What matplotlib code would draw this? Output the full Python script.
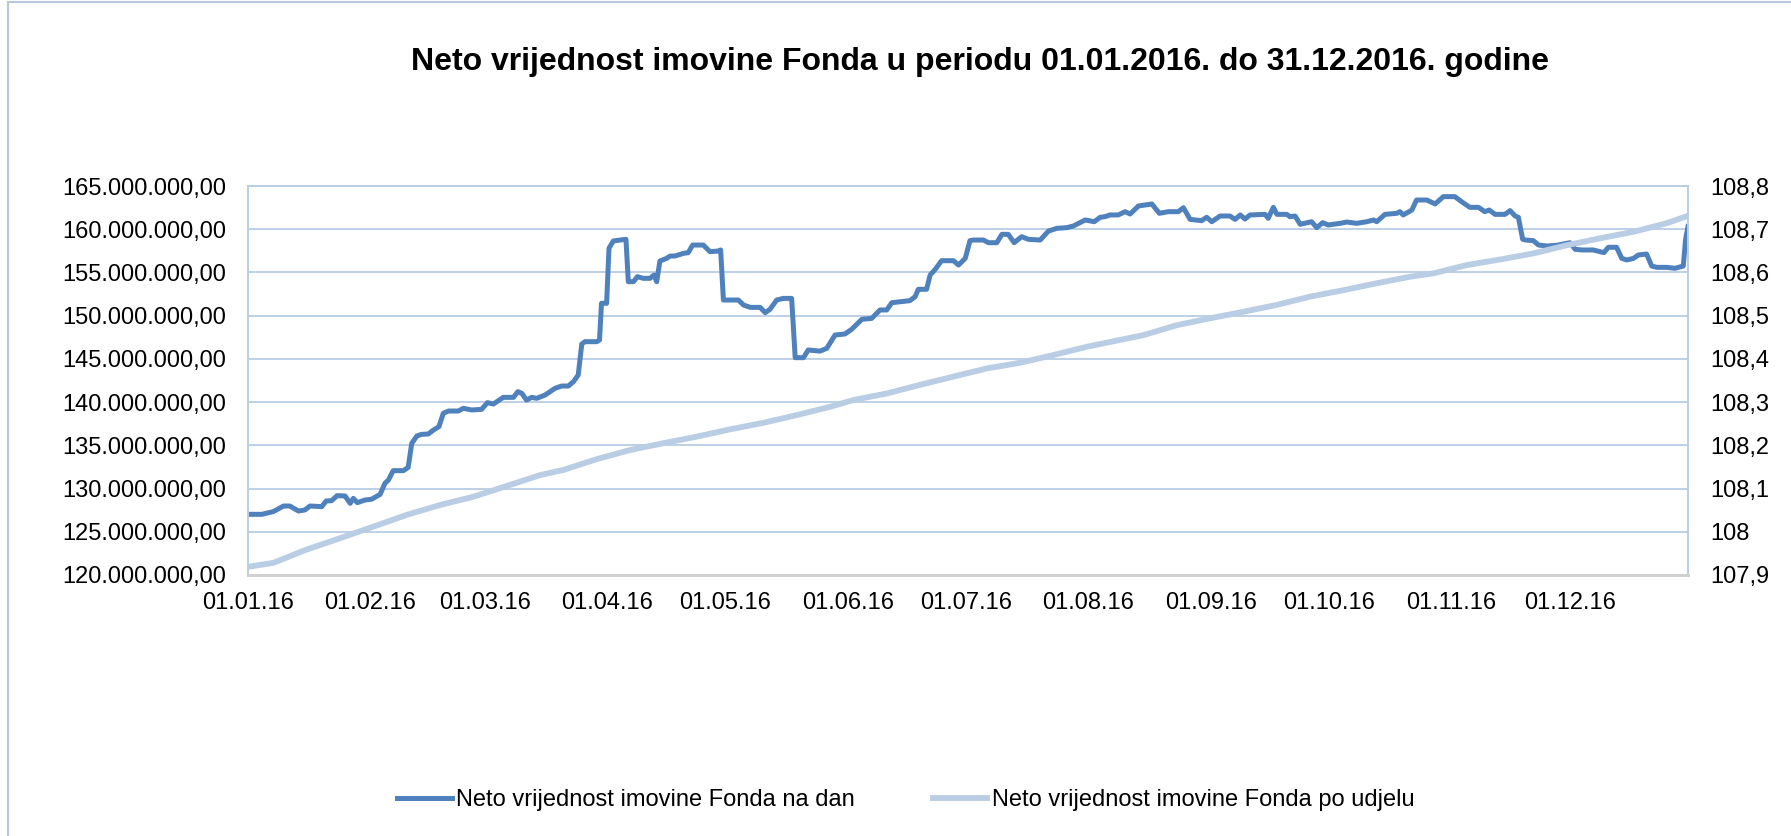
# Neto vrijednost imovine Fonda 2016 - rekonstrukcija grafa
import matplotlib
matplotlib.use("Agg")
import matplotlib.pyplot as plt
import matplotlib.dates as mdates
from matplotlib.patches import Rectangle
import numpy as np

plt.rcParams['font.family'] = ['Liberation Sans', 'DejaVu Sans']

# dan u godini (0 = 01.01.2016.) i neto imovina u milijunima
dani_imovina = [
    0, 3.5, 6.4, 9.0, 10.6, 12.8, 14.4, 15.7, 18.7, 19.8, 21.2, 22.6, 24.6, 25.9, 26.7,
    27.7, 29.7, 31.3, 33.5, 34.7, 35.6, 36.8, 39.4, 40.6, 41.5, 42.8, 44.0, 45.7, 47.0,
    48.4, 49.5, 50.8, 53.3, 54.6, 56.7, 59.2, 60.7, 62.2, 64.7, 67.3, 68.4, 69.4, 70.6, 71.9,
    73.2, 75.3, 77.8, 79.5, 81.2, 82.5, 83.7, 84.6, 85.4, 88.4, 89.1, 89.6, 90.9, 91.5,
    92.6, 94.3, 95.8, 96.4, 97.7, 98.7, 100.2, 101.9, 102.9, 103.6, 104.4, 106.1, 107.0,
    108.2, 110.4, 111.6, 112.7, 115.4, 117.1, 119.2, 119.8, 120.5, 124.3, 125.6, 127.3,
    129.8, 131.1, 132.3, 134.0, 135.7, 137.8, 138.7, 140.8, 142.0,
    145.0, 146.7, 148.8, 151.3, 153.0, 155.6, 158.1, 160.2, 161.9, 163.2, 167.8, 169.1,
    169.9, 172.0, 172.9, 174.2, 175.8, 178.8, 180.1, 181.8, 183.0, 183.9, 186.4, 187.7,
    189.8, 191.1, 192.7, 194.2, 196.1, 197.8, 200.8, 202.9, 205.0, 207.5, 209.2, 212.2,
    214.5, 216.0, 217.2,
    218.5, 220.6, 222.3, 223.6, 225.7, 227.4, 229.1, 231.0, 233.3, 235.8, 237.1, 238.8,
    241.7, 243.0, 244.3, 246.4, 248.9, 250.2, 251.5, 252.7, 254.0, 257.8, 258.6, 259.9,
    260.8, 263.3, 264.1, 265.4, 266.7, 269.6, 270.9, 272.4, 273.8, 276.8, 278.5, 281.0,
    283.6, 285.3, 286.1, 288.2, 291.2,
    292.0, 292.8, 295.0, 296.2, 298.8, 300.9, 303.0, 305.9, 307.6, 309.7, 311.9, 313.5,
    314.6, 316.1, 318.6, 319.9, 321.2, 322.0, 323.1, 323.9, 325.8, 327.1, 329.2, 331.7,
    333.4, 335.1, 336.4, 338.1, 341.0, 343.7, 344.8, 346.9, 348.2, 349.5, 351.2, 352.4,
    354.5, 355.8, 357.1, 359.6, 361.7, 363.8, 364.4, 365.0,
]
imovina_mil = [
    127.02, 127.02, 127.33, 127.98, 127.98, 127.40, 127.52, 127.98, 127.91, 128.56, 128.60,
    129.18, 129.14, 128.29, 128.87, 128.37, 128.68, 128.76, 129.33, 130.60, 130.99, 132.07,
    132.07, 132.45, 135.23, 136.08, 136.27, 136.31, 136.77, 137.16, 138.70, 138.97, 138.97,
    139.28, 139.09, 139.16, 139.94, 139.78, 140.55, 140.55, 141.21, 141.02, 140.24, 140.55,
    140.44, 140.82, 141.59, 141.86, 141.86, 142.37, 143.14, 146.72, 146.99, 146.99, 147.18,
    151.43, 151.43, 157.79, 158.64, 158.75, 158.83, 153.93, 153.93, 154.51, 154.32, 154.32,
    154.70, 153.93, 156.32, 156.63, 156.90, 156.90, 157.21, 157.29, 158.17, 158.17, 157.40,
    157.48, 157.60, 151.81, 151.81, 151.23, 150.96, 150.96, 150.35, 150.73, 151.81, 152.00,
    152.00, 145.14, 145.14, 146.03,
    145.90, 146.22, 147.76, 147.88, 148.42, 149.58, 149.69, 150.66, 150.66, 151.50, 151.74,
    152.20, 153.05, 153.05, 154.70, 155.36, 156.36, 156.36, 155.86, 156.63, 158.68, 158.75,
    158.75, 158.44, 158.44, 159.41, 159.41, 158.44, 159.14, 158.83, 158.75, 159.79, 160.10,
    160.18, 160.37, 161.07, 160.87, 161.38, 161.45,
    161.65, 161.65, 162.03, 161.76, 162.69, 162.80, 162.92, 161.84, 162.03, 162.03, 162.49,
    161.14, 160.99, 161.38, 160.87, 161.53, 161.53, 161.14, 161.65, 161.18, 161.65, 161.72,
    161.26, 162.53, 161.72, 161.72, 161.45, 161.53, 160.57, 160.87, 160.18, 160.76, 160.49,
    160.68, 160.83, 160.68, 160.87, 161.07, 160.87, 161.72, 161.84,
    162.03, 161.65, 162.22, 163.38, 163.38, 162.92, 163.77, 163.77, 163.19, 162.53, 162.53,
    162.03, 162.22, 161.72, 161.72, 162.15, 161.53, 161.38, 158.83, 158.75, 158.68, 158.17,
    158.06, 158.14, 158.29, 158.44, 157.67, 157.60, 157.60, 157.29, 157.91, 157.91, 156.63,
    156.44, 156.63, 157.02, 157.13, 155.74, 155.59, 155.59, 155.48, 155.74, 158.90, 160.30,
]

# vrijednost po udjelu
dani_udjel = [
    0, 6.4, 14.9, 23.3, 31.8, 40.2, 48.7, 57.1, 65.6, 74.0, 79.9, 88.4, 96.8, 105.3,
    113.7, 122.2, 130.6, 139.1, 147.5, 153.5, 161.9, 170.4, 178.8, 187.3, 195.7, 204.2,
    212.6, 221.1, 227.0, 235.4, 243.9, 252.3, 260.8, 269.2, 277.7, 286.1, 294.5, 300.5,
    308.9, 317.4, 325.8, 334.3, 342.7, 351.2, 359.6, 365.0,
]
udjel = [
    107.919, 107.928, 107.959, 107.985, 108.012, 108.039, 108.062, 108.081, 108.106,
    108.131, 108.143, 108.168, 108.189, 108.205, 108.220, 108.237, 108.252, 108.270,
    108.289, 108.305, 108.320, 108.340, 108.359, 108.378, 108.391, 108.409, 108.428,
    108.444, 108.455, 108.478, 108.494, 108.509, 108.525, 108.544, 108.559, 108.575,
    108.590, 108.598, 108.617, 108.630, 108.644, 108.663, 108.679, 108.694, 108.714,
    108.731,
]

naslov = "Neto vrijednost imovine Fonda u periodu 01.01.2016. do 31.12.2016. godine"
legenda = ["Neto vrijednost imovine Fonda na dan", "Neto vrijednost imovine Fonda po udjelu"]

TAMNA = '#4f81bd'
SVIJETLA = '#b9cde5'
MREZA = '#b9cde5'

pocetak = mdates.datestr2num('2016-01-01')
x_imov = pocetak + np.array(dani_imovina)
x_udj = pocetak + np.array(dani_udjel)

fig = plt.figure(figsize=(17.91, 8.36), dpi=100)
# okvir oko cijelog grafa
fig.patches.append(Rectangle((8 / 1791, -0.05), 1.2, 1.05 - 2 / 836, transform=fig.transFigure,
                             fill=False, edgecolor='#b7c9e0', lw=1.5))

ax = fig.add_axes([248 / 1791, 1 - 575 / 836, 1440 / 1791, 389 / 836])
ax.plot(x_imov, np.array(imovina_mil) * 1e6, color=TAMNA, lw=3.6,
        solid_joinstyle='round', label=legenda[0])
ax.set_ylim(120e6, 165e6)
ax.set_yticks(np.arange(120e6, 165e6 + 1, 5e6))
ax.yaxis.set_major_formatter(plt.FuncFormatter(
    lambda v, p: f"{v:,.2f}".replace(',', ' ').replace('.', ',').replace(' ', '.')))
ax.grid(axis='y', color=MREZA, lw=1.3)
ax.set_axisbelow(True)

ax.set_xlim(pocetak, pocetak + 365)
ax.xaxis.set_major_locator(mdates.MonthLocator())
ax.xaxis.set_major_formatter(mdates.DateFormatter('%d.%m.%y'))

ax2 = ax.twinx()
ax2.plot(x_udj, udjel, color=SVIJETLA, lw=4.2, label=legenda[1])
ax2.set_ylim(107.9, 108.8)
ax2.set_yticks(np.round(np.arange(107.9, 108.81, 0.1), 1))
ax2.yaxis.set_major_formatter(plt.FuncFormatter(
    lambda v, p: f"{v:.1f}".replace('.', ',').replace(',0', '')))

for a in (ax, ax2):
    for s in ('left', 'right', 'top'):
        a.spines[s].set_color(MREZA)
        a.spines[s].set_linewidth(1.3)
    a.spines['bottom'].set_color('#d0d0d0')
    a.spines['bottom'].set_linewidth(2)
    a.tick_params(length=0, labelsize=17)
ax.tick_params(axis='y', pad=16)
ax2.tick_params(axis='y', pad=16)
ax.tick_params(axis='x', pad=12)

fig.text(980 / 1791, 1 - 62 / 836, naslov, ha='center', va='center',
         fontsize=23, fontweight='bold')

h1, = ax.get_lines()
h2, = ax2.get_lines()
fig.legend([h1, h2], legenda, loc='center', bbox_to_anchor=(906 / 1791, 1 - 800 / 836),
           ncol=2, frameon=False, fontsize=17, handlelength=2.3, handletextpad=0.2,
           columnspacing=3.3)

fig.savefig('out.png', dpi=100)
